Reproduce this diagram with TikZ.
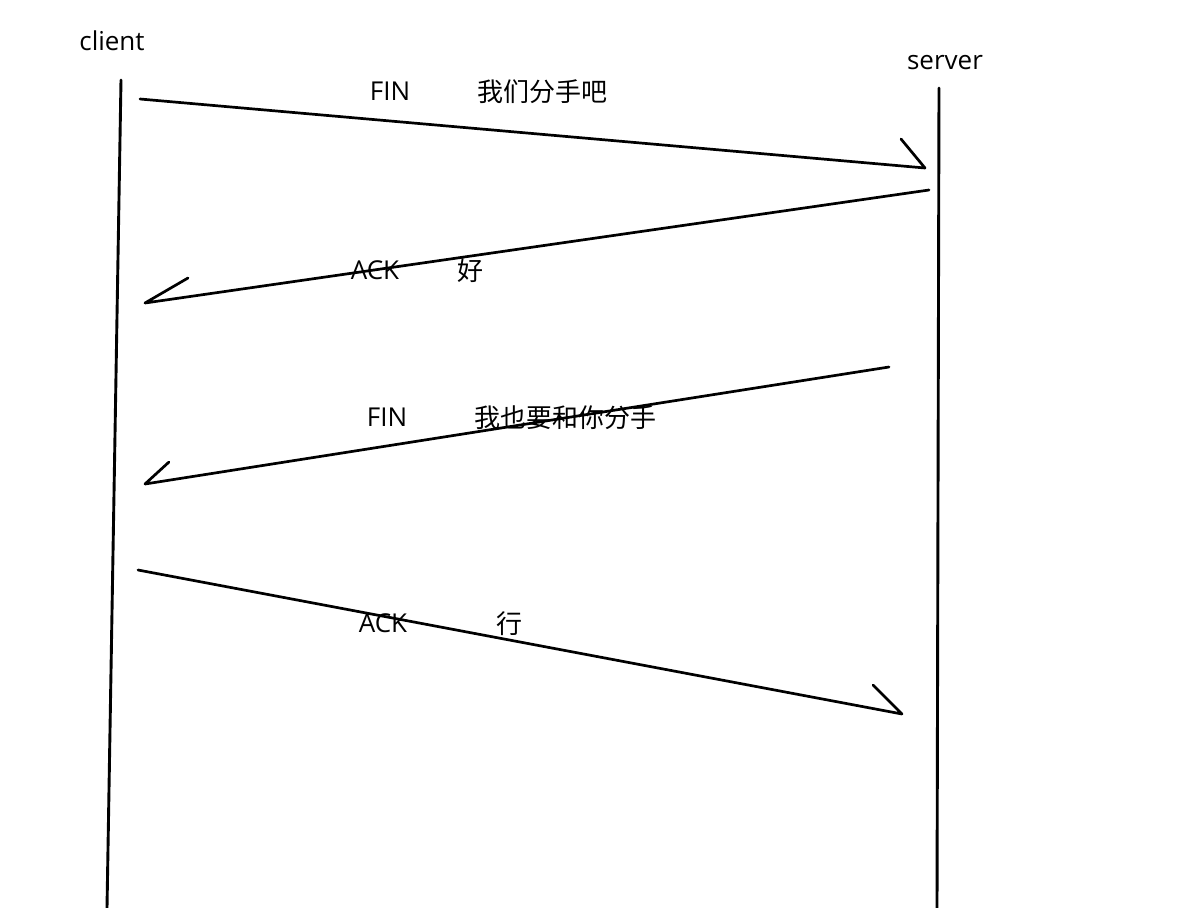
\documentclass[tikz,border=0pt]{standalone}
\usepackage{fontspec}
\setmainfont{Open Sans}
\newfontfamily\cjk{Noto Sans CJK SC}
\usepackage{tikz}
\usetikzlibrary{positioning}
\tikzset{
  every picture/.style={line cap=round, line join=round},
  lbl/.style={font=\fontsize{26}{30}\selectfont, text=black, inner sep=0pt, anchor=base},
  cjklbl/.style={lbl, font=\fontsize{26}{30}\selectfont\cjk},
  lifeline/.style={black, line width=2.9pt},
  msg/.style={black, line width=2.7pt},
}

\begin{document}
\begin{tikzpicture}[x=1pt, y=-1pt]
\useasboundingbox (0,0) rectangle (1200,908);
% lifelines
\node[lbl] (client) at (112,50) {client};
\node[lbl] (server) at (945,69) {server};
\coordinate (ctop) at (121,80);
\coordinate (cbot) at (107,908);
\coordinate (stop) at (939,88);
\coordinate (sbot) at (937,908);
\draw[lifeline] (ctop) -- (cbot);
\draw[lifeline] (stop) -- (sbot);
% first FIN, client to server
\coordinate (fin1a) at (140,99);
\coordinate (fin1b) at (925,168);
\coordinate (fin1h) at (901,139);
\draw[msg] (fin1a) -- (fin1b) -- (fin1h);
\node[lbl] (fin1) at (390,100) {FIN};
\node[cjklbl] (fin1txt) at (542,101) {我们分手吧};
% ACK back
\coordinate (ack1a) at (929,190);
\coordinate (ack1b) at (145,303);
\coordinate (ack1h) at (188,278);
\draw[msg] (ack1a) -- (ack1b) -- (ack1h);
\node[lbl] (ack1) at (375,279) {ACK};
\node[cjklbl] (ack1txt) at (470,280) {好};
% second FIN, server to client
\coordinate (fin2a) at (889,367);
\coordinate (fin2b) at (145,484);
\coordinate (fin2h) at (169,462);
\draw[msg] (fin2a) -- (fin2b) -- (fin2h);
\node[lbl] (fin2) at (387,426) {FIN};
\node[cjklbl] (fin2txt) at (565,427) {我也要和你分手};
% last ACK
\coordinate (ack2a) at (138,570);
\coordinate (ack2b) at (902,714);
\coordinate (ack2h) at (873,685);
\draw[msg] (ack2a) -- (ack2b) -- (ack2h);
\node[lbl] (ack2) at (383,632) {ACK};
\node[cjklbl] (ack2txt) at (509,633) {行};
\end{tikzpicture}
\end{document}
